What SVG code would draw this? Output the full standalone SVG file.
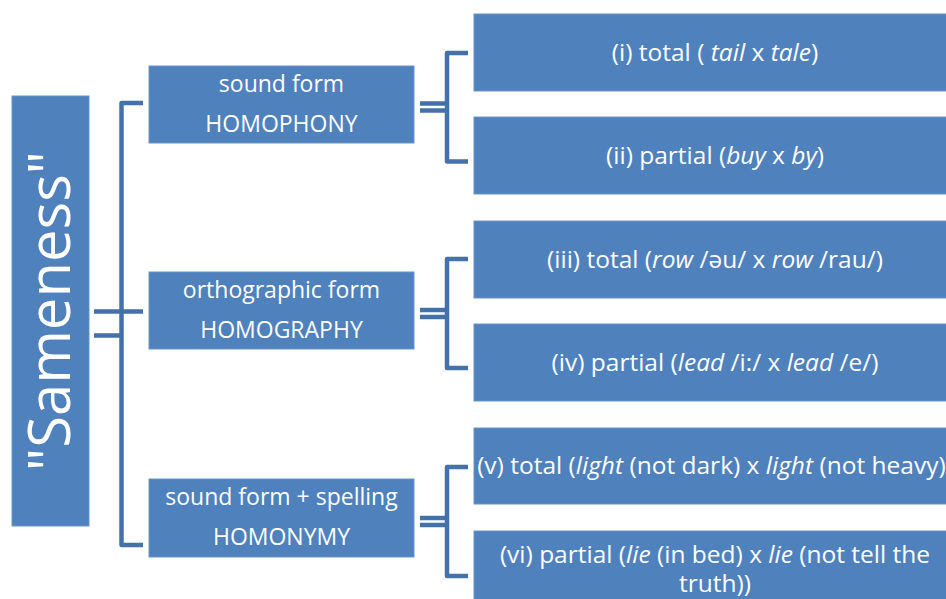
<svg xmlns="http://www.w3.org/2000/svg" width="946" height="599" viewBox="0 0 946 599">
<style>
.box{fill:#4F81BD;stroke:#6A94C8;stroke-width:1}
.t{font-family:"Open Sans","Liberation Sans",sans-serif;fill:#FFFFFF;text-anchor:middle}
.mid{font-size:23px}
.leaf{font-size:24.5px}
.big{font-size:58px}
.con{fill:none;stroke:#4571A9;stroke-width:4.5;stroke-linejoin:round;stroke-linecap:butt}
</style>
<rect width="946" height="599" fill="#FFFFFF"/>
<g id="connectors">
<path class="con" d="M143,103 H121.5 V545 H143"/>
<path class="con" d="M94,311.5 H143"/>
<path class="con" d="M94,335.5 H121.5"/>
<path class="con" d="M468,53 H447 V161.5 H468"/>
<path class="con" d="M420,103.5 H447 M420,110.5 H447"/>
<path class="con" d="M468,259 H447 V368 H468"/>
<path class="con" d="M420,310 H447 M420,317 H447"/>
<path class="con" d="M468,467 H447 V576 H468"/>
<path class="con" d="M420,518 H447 M420,525 H447"/>
</g>
<g id="sameness">
<rect class="box" x="12" y="96" width="77" height="430"/>
<text class="t big" transform="translate(70,311) rotate(-90)">"Sameness"</text>
</g>
<g id="homophony">
<rect class="box" x="149" y="66" width="265" height="77"/>
<text class="t mid" x="281.5" y="92">sound form</text>
<text class="t mid" x="281.5" y="132">HOMOPHONY</text>
</g>
<g id="homography">
<rect class="box" x="149" y="272" width="265" height="77"/>
<text class="t mid" x="281.5" y="298">orthographic form</text>
<text class="t mid" x="281.5" y="338">HOMOGRAPHY</text>
</g>
<g id="homonymy">
<rect class="box" x="149" y="479" width="265" height="78"/>
<text class="t mid" x="281.5" y="505">sound form + spelling</text>
<text class="t mid" x="281.5" y="545">HOMONYMY</text>
</g>
<g id="leaf1">
<rect class="box" x="474" y="14" width="482" height="77"/>
<text class="t leaf" x="715" y="61">(i) total ( <tspan font-style="italic">tail</tspan> x <tspan font-style="italic">tale</tspan>)</text>
</g>
<g id="leaf2">
<rect class="box" x="474" y="117" width="482" height="77"/>
<text class="t leaf" x="715" y="164">(ii) partial (<tspan font-style="italic">buy</tspan> x <tspan font-style="italic">by</tspan>)</text>
</g>
<g id="leaf3">
<rect class="box" x="474" y="221" width="482" height="77"/>
<text class="t leaf" x="715" y="268">(iii) total (<tspan font-style="italic">row</tspan> /əu/ x <tspan font-style="italic">row</tspan> /rau/)</text>
</g>
<g id="leaf4">
<rect class="box" x="474" y="324" width="482" height="77"/>
<text class="t leaf" x="715" y="371">(iv) partial (<tspan font-style="italic">lead</tspan> /i:/ x <tspan font-style="italic">lead</tspan> /e/)</text>
</g>
<g id="leaf5">
<rect class="box" x="474" y="428" width="482" height="76"/>
<text class="t leaf" x="715" y="474">(v) total (<tspan font-style="italic">light</tspan> (not dark) x <tspan font-style="italic">light</tspan> (not heavy))</text>
</g>
<g id="leaf6">
<rect class="box" x="474" y="531" width="482" height="77"/>
<text class="t leaf" x="715" y="563">(vi) partial (<tspan font-style="italic">lie</tspan> (in bed) x <tspan font-style="italic">lie</tspan> (not tell the</text>
<text class="t leaf" x="715" y="592">truth))</text>
</g>
</svg>
